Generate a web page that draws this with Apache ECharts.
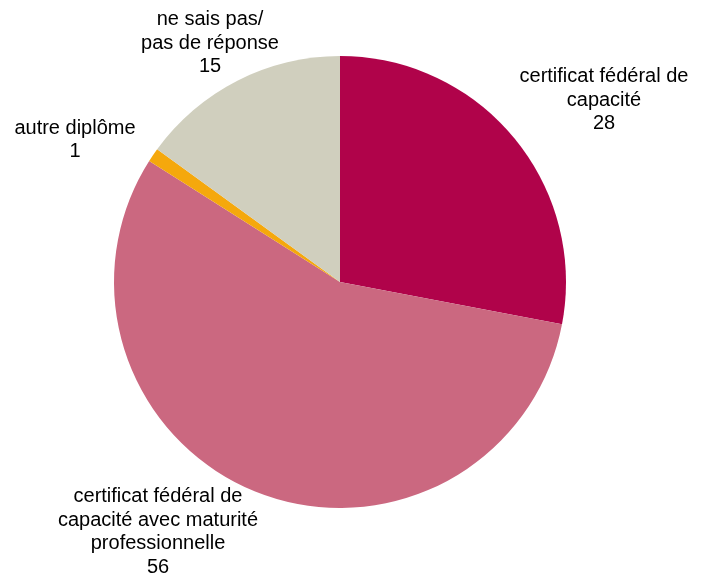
<!DOCTYPE html>
<html><head><meta charset="utf-8">
<script src="https://cdn.jsdelivr.net/npm/echarts@6/dist/echarts.min.js"></script>
<style>html,body{margin:0;padding:0;background:#fff}#c{width:702px;height:574px}</style>
</head><body><div id="c"></div>
<script>
const categories = ['certificat fédéral de\ncapacité', 'certificat fédéral de\ncapacité avec maturité\nprofessionnelle', 'autre diplôme', 'ne sais pas/\npas de réponse'];
const values = [28, 56, 1, 15];
const colors = ['#B0034A', '#CB6880', '#F5A80C', '#D0CFBE'];
const labelPos = [[604, 100], [158, 532], [75, 140], [210, 43]];

const chart = echarts.init(document.getElementById('c'), null, {renderer: 'canvas'});
chart.setOption({
  animation: false,
  series: [{
    type: 'pie',
    center: [340, 282],
    radius: 226,
    startAngle: 90,
    clockwise: true,
    data: categories.map((n, i) => ({name: n, value: values[i], itemStyle: {color: colors[i]}})),
    itemStyle: {borderWidth: 0},
    label: {
      show: true,
      position: 'outside',
      formatter: p => p.name + '\n' + p.value,
      fontFamily: 'Liberation Sans, Arial, sans-serif',
      fontSize: 20,
      lineHeight: 23.5,
      color: '#000',
      align: 'center',
      overflow: 'none',
      width: 400
    },
    labelLine: {show: false},
    labelLayout: p => ({x: labelPos[p.dataIndex][0], y: labelPos[p.dataIndex][1], align: 'center', verticalAlign: 'middle'})
  }]
});
</script></body></html>
